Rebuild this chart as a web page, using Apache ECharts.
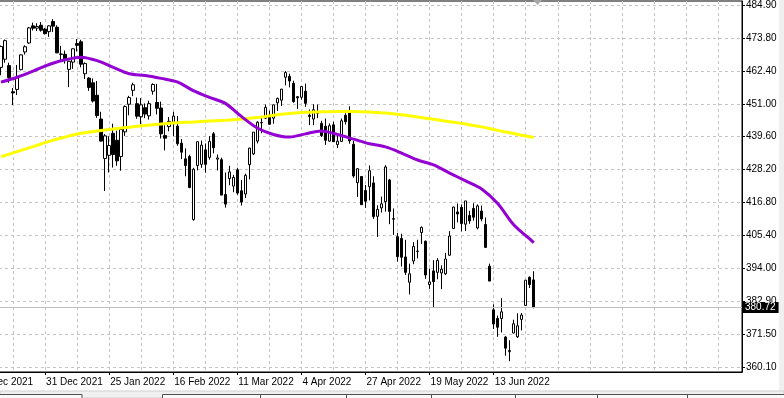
<!DOCTYPE html>
<html lang="en">
  <head>
    <meta charset="UTF-8" />
    <title>SPY Daily</title>
    <style>
      html, body { margin: 0; padding: 0; background: #fff; }
      #main { width: 784px; height: 398px; }
    </style>
  </head>
  <body>
    <div id="main"></div>

    <script src="https://cdn.jsdelivr.net/npm/echarts@6.0.0/dist/echarts.min.js"></script>
    <script>
      // trading days on the time axis (the first five sit left of the visible area)
      var months = ["Dec 2021", "Jan 2022", "Feb 2022", "Mar 2022", "Apr 2022", "May 2022", "Jun 2022"];
      var monthDays = [
        [8, 9, 10, 13, 14, 15, 16, 17, 20, 21, 22, 23, 27, 28, 29, 30, 31],
        [3, 4, 5, 6, 7, 10, 11, 12, 13, 14, 18, 19, 20, 21, 24, 25, 26, 27, 28, 31],
        [1, 2, 3, 4, 7, 8, 9, 10, 11, 14, 15, 16, 17, 18, 22, 23, 24, 25, 28],
        [1, 2, 3, 4, 7, 8, 9, 10, 11, 14, 15, 16, 17, 18, 21, 22, 23, 24, 25, 28, 29, 30, 31],
        [1, 4, 5, 6, 7, 8, 11, 12, 13, 14, 18, 19, 20, 21, 22, 25, 26, 27, 28, 29],
        [2, 3, 4, 5, 6, 9, 10, 11, 12, 13, 16, 17, 18, 19, 20, 23, 24, 25, 26, 27, 31],
        [1, 2, 3, 6, 7, 8, 9, 10, 13, 14, 15, 16, 17, 21, 22, 23, 24, 27, 28],
      ];
      var futureSlots = 52; // empty space right of the last bar
      var firstCandle = 5; // 15 Dec 2021

      // OHLC from 15 Dec 2021 to 28 Jun 2022
      var opens = [
        463.4, 466.2, 464.0, 455.0, 455.8, 462.6, 468.7, 471.8, 477.7, 476.9, 477.9, 476.6,
        475.7, 479.2, 477.2, 467.9, 467.9, 462.7, 465.2, 471.6, 472.2, 461.2, 459.7, 458.1, 453.8, 445.6, 432.0, 433.1, 440.7, 438.3, 432.7, 441.2,
        450.7, 455.5, 450.9, 446.4, 449.5, 446.7, 455.2, 451.3, 449.4, 439.9, 443.0, 443.9, 443.2, 437.3, 431.9, 432.7, 411.0, 429.6, 430.0,
        435.0, 432.4, 440.5, 431.8, 431.6, 419.6, 425.1, 422.5, 428.1, 420.9, 419.8, 429.9, 433.6, 438.0, 444.3, 445.9, 446.9, 445.9, 451.2, 452.1, 460.0, 460.3, 457.9,
        453.3, 453.1, 455.2, 446.9, 445.6, 448.0, 444.1, 443.1, 438.0, 443.6, 436.8, 437.9, 446.9, 448.5, 436.9, 423.7, 425.8, 421.0, 422.3, 423.6,
        412.1, 415.0, 417.1, 424.6, 411.1, 405.1, 404.5, 398.1, 389.4, 396.7, 400.0, 406.5, 403.5, 388.6, 393.3, 392.8, 392.6, 392.3, 398.7, 407.9, 413.6,
        415.2, 409.4, 412.4, 414.8, 408.1, 413.9, 409.3, 394.9, 379.9, 376.9, 376.9, 370.5, 365.5, 371.9, 370.6, 376.6, 381.4, 391.1, 390.2,
      ];
      var closes = [
        470.6, 472.6, 459.9, 454.6, 459.8, 467.7, 470.5, 477.0, 476.9, 477.5, 476.2, 475.0,
        477.7, 477.6, 468.4, 468.0, 466.1, 465.5, 469.8, 471.0, 464.5, 464.7, 456.5, 451.8, 446.8, 438.0, 439.8, 436.5, 433.4, 431.2, 442.0, 449.9,
        453.0, 457.4, 446.6, 450.5, 447.3, 450.9, 457.5, 449.3, 440.5, 439.0, 444.8, 446.6, 437.1, 434.2, 429.6, 422.0, 428.3, 437.8, 436.6,
        430.0, 437.9, 435.7, 432.2, 419.4, 416.3, 427.4, 425.5, 420.1, 417.0, 426.2, 435.6, 441.1, 444.5, 444.4, 449.6, 443.8, 450.5, 452.7, 455.9, 461.6, 458.7, 451.6,
        452.9, 456.8, 451.0, 446.5, 448.8, 447.6, 439.9, 438.3, 443.3, 437.8, 438.0, 445.0, 444.7, 438.1, 426.0, 428.5, 416.1, 417.3, 427.8, 412.0,
        414.5, 416.4, 429.1, 413.8, 411.3, 398.2, 398.0, 392.8, 392.3, 401.7, 400.1, 408.3, 391.9, 389.5, 389.6, 396.9, 393.9, 397.4, 405.3, 415.3, 412.9,
        409.6, 417.4, 410.5, 411.8, 415.7, 411.2, 401.4, 389.8, 375.0, 373.9, 379.2, 366.7, 365.9, 375.1, 374.4, 378.1, 390.1, 388.6, 380.72,
      ];
      var lows = [
        460.7, 465.0, 458.1, 450.4, 453.9, 462.4, 467.8, 471.5, 476.1, 475.9, 475.7, 474.7,
        473.9, 475.6, 468.3, 465.4, 464.7, 456.6, 462.9, 468.9, 463.4, 459.4, 455.3, 451.3, 446.0, 437.9, 420.8, 427.2, 428.9, 429.5, 427.8, 439.8,
        446.9, 453.5, 445.7, 443.8, 445.9, 445.4, 454.0, 447.2, 438.9, 434.8, 441.4, 439.7, 436.4, 431.8, 425.9, 421.8, 410.6, 427.9, 428.8,
        427.1, 431.6, 433.8, 427.9, 419.4, 415.1, 422.8, 420.4, 419.5, 415.8, 418.4, 424.8, 433.2, 437.2, 440.7, 445.6, 443.7, 444.0, 448.4, 450.1, 457.2, 456.5, 451.2,
        449.1, 452.3, 449.8, 443.5, 443.5, 445.9, 439.4, 436.7, 437.8, 437.7, 435.6, 437.7, 443.7, 437.1, 425.4, 418.8, 416.1, 415.0, 417.6, 411.2,
        405.0, 413.4, 413.7, 409.4, 405.7, 396.5, 394.8, 391.9, 385.2, 395.6, 397.6, 402.6, 390.6, 387.1, 380.5, 390.4, 387.0, 391.9, 398.5, 407.7, 410.0,
        406.9, 407.0, 409.5, 410.6, 407.6, 410.4, 401.4, 389.8, 373.3, 370.6, 372.1, 364.1, 362.2, 371.8, 370.2, 372.8, 381.4, 387.4, 380.4,
      ];
      var highs = [
        470.9, 473.0, 465.0, 456.3, 464.2, 467.9, 471.0, 477.3, 478.8, 478.6, 479.0, 477.0,
        477.9, 480.0, 477.9, 470.8, 469.2, 465.7, 469.9, 473.2, 472.9, 465.1, 460.0, 459.6, 458.7, 448.1, 440.4, 439.7, 444.0, 441.6, 442.0, 450.3,
        453.6, 458.1, 453.0, 452.8, 451.0, 451.9, 457.9, 457.7, 451.6, 443.5, 446.3, 448.1, 446.6, 438.7, 435.5, 433.3, 428.8, 437.8, 438.2,
        437.2, 439.7, 441.1, 433.4, 432.3, 427.2, 429.5, 426.4, 428.8, 424.6, 426.8, 435.7, 441.1, 444.9, 446.5, 450.6, 448.5, 450.6, 453.0, 456.0, 462.1, 461.2, 458.8,
        453.5, 456.9, 457.8, 448.9, 450.7, 450.6, 445.0, 445.8, 444.1, 444.7, 439.8, 445.8, 447.6, 450.0, 438.1, 428.7, 426.0, 422.9, 429.6, 425.9,
        415.9, 418.9, 429.7, 425.0, 414.8, 406.4, 406.1, 404.0, 395.8, 403.2, 404.0, 408.6, 403.8, 394.1, 397.0, 397.7, 395.2, 399.5, 407.0, 415.4, 416.5,
        416.2, 417.4, 414.0, 416.6, 416.2, 415.8, 411.7, 395.8, 381.8, 377.9, 383.9, 370.9, 369.4, 376.5, 378.7, 378.8, 390.1, 391.4, 393.2,
      ];

      // moving averages at every 4th bar (bar index on the time axis)
      var maBars = [5, 9, 13, 17, 21, 25, 29, 33, 37, 41, 45, 49, 53, 57, 61, 65, 69, 73, 77, 81, 85, 89, 93, 97, 101, 105, 109, 113, 117, 121, 125, 129, 133, 137, 138];
      var maFast = [
        458.3, 460.0, 462.1, 464.4, 466.0, 466.9, 465.7, 463.4, 461.2, 460.6, 459.6, 458.4, 455.4, 453.1, 451.0, 446.5, 442.5, 440.3,
        439.4, 440.5, 441.5, 440.3, 438.7, 437.1, 436.0, 433.9, 431.5, 429.8, 427.0, 424.3, 421.5, 416.5, 409.2, 404.3, 403.0,
      ];
      var maSlow = [
        432.6, 434.4, 436.1, 437.9, 439.4, 440.7, 441.5, 442.2, 442.8, 443.4, 443.9, 444.3, 444.6, 444.9, 445.2, 445.6, 446.1, 446.9,
        447.5, 447.9, 448.1, 448.2, 448.2, 448.0, 447.7, 447.1, 446.3, 445.5, 444.7, 443.9, 442.9, 441.7, 440.6, 439.5, 439.2,
      ];

      var priceTicks = ["360.10", "371.50", "382.90", "394.00", "405.40", "416.80", "428.20", "439.60", "451.00", "462.40", "473.80", "484.90"];
      var lastPrice = 380.72;

      // price scale: tick k sits at tickBase + k * tickStep
      var tickBase = 360.1;
      var tickStep = 11.345;
      var uMin = -0.1427;
      var uMax = 11.12;

      var dates = [];
      months.forEach(function (m, i) {
        monthDays[i].forEach(function (d) {
          dates.push(d + " " + m);
        });
      });
      var categories = dates.concat(new Array(futureSlots).fill(""));

      var candles = [];
      for (var i = 0; i < firstCandle; i++) candles.push("-");
      for (var j = 0; j < opens.length; j++) {
        candles.push([opens[j], closes[j], lows[j], highs[j]]);
      }
      var fastData = maBars.map(function (b, k) { return [b, maFast[k]]; });
      var slowData = maBars.map(function (b, k) { return [b, maSlow[k]]; });
      var tickValues = priceTicks.map(function (t, k) { return tickBase + k * tickStep; });

      var font = "Liberation Sans";
      var gridLine = { color: "#c4c4c4", type: [3, 3], width: 1 };
      var labelEvery = function (index, value) {
        return index % 16 === 0 && value !== "";
      };

      var myChart = echarts.init(document.getElementById("main"));
      var option = {
        backgroundColor: "#ffffff",
        animation: false,
        grid: {
          left: -19,
          right: 42,
          top: 1,
          bottom: 26,
          outerBoundsMode: "none",
          containLabel: false,
          show: true,
          borderColor: "#000",
          borderWidth: 1,
        },
        xAxis: {
          type: "category",
          data: categories,
          boundaryGap: false,
          axisLine: { lineStyle: { color: "#000", width: 1 } },
          axisTick: { interval: labelEvery, length: 3, lineStyle: { color: "#000" } },
          axisLabel: {
            interval: labelEvery,
            align: "left",
            margin: 5,
            padding: [0, 0, 0, 1],
            color: "#000",
            fontFamily: font,
            fontSize: 10,
          },
          splitLine: {
            show: true,
            interval: function (index) { return index % 8 === 0; },
            lineStyle: gridLine,
          },
        },
        yAxis: {
          type: "value",
          position: "right",
          min: tickBase + uMin * tickStep,
          max: tickBase + uMax * tickStep,
          axisLine: { show: true, lineStyle: { color: "#000", width: 1 } },
          axisTick: { show: true, length: 3, customValues: tickValues, lineStyle: { color: "#000" } },
          axisLabel: {
            customValues: tickValues,
            margin: 4,
            color: "#000",
            fontFamily: font,
            fontSize: 10,
            formatter: function (v) {
              var k = Math.round((v - tickBase) / tickStep);
              return priceTicks[k] || "";
            },
          },
          splitLine: { show: true, lineStyle: gridLine },
        },
        series: [
          {
            type: "candlestick",
            data: candles,
            barWidth: 3,
            itemStyle: {
              color: "#ffffff",
              color0: "#000000",
              borderColor: "#000000",
              borderColor0: "#000000",
              borderWidth: 1,
            },
            markLine: {
              silent: true,
              symbol: "none",
              z: 10,
              lineStyle: { color: "#c0c0c0", type: "solid", width: 1 },
              label: {
                position: "end",
                distance: 0,
                formatter: lastPrice.toFixed(2),
                backgroundColor: "#000",
                color: "#fff",
                padding: [1, 3, 0, 3],
                fontFamily: font,
                fontSize: 10,
              },
              data: [{ yAxis: lastPrice }],
            },
          },
          {
            type: "line",
            data: slowData,
            showSymbol: false,
            smooth: 0.3,
            z: 4,
            lineStyle: { color: "#ffff00", width: 3 },
          },
          {
            type: "line",
            data: fastData,
            showSymbol: false,
            smooth: 0.3,
            z: 5,
            lineStyle: { color: "#9400d3", width: 3 },
          },
        ],
        graphic: [
          { type: "polygon", shape: { points: [[533, 0], [542, 0], [537.5, 5]] }, style: { fill: "#a8a8a8" } },
          { type: "rect", shape: { x: 779, y: 0, width: 5, height: 391 }, style: { fill: "#f0f0f0" } },
          { type: "rect", shape: { x: 0, y: 391, width: 784, height: 7 }, style: { fill: "#f0f0f0", stroke: "#d0d0d0", lineWidth: 1 } },
          { type: "rect", shape: { x: -1, y: 394.5, width: 83, height: 6 }, style: { fill: "#fafafa", stroke: "#505050", lineWidth: 1 } },
          { type: "rect", shape: { x: 162.5, y: 394.5, width: 630, height: 6 }, style: { fill: "#fafafa", stroke: "#505050", lineWidth: 1 } },
          { type: "line", shape: { x1: 260.5, y1: 395, x2: 260.5, y2: 398 }, style: { stroke: "#505050" } },
          { type: "line", shape: { x1: 346.5, y1: 395, x2: 346.5, y2: 398 }, style: { stroke: "#505050" } },
          { type: "line", shape: { x1: 431.5, y1: 395, x2: 431.5, y2: 398 }, style: { stroke: "#505050" } },
          { type: "line", shape: { x1: 515.5, y1: 395, x2: 515.5, y2: 398 }, style: { stroke: "#505050" } },
          { type: "line", shape: { x1: 597.5, y1: 395, x2: 597.5, y2: 398 }, style: { stroke: "#505050" } },
          { type: "line", shape: { x1: 687.5, y1: 395, x2: 687.5, y2: 398 }, style: { stroke: "#505050" } },
        ],
      };
      myChart.setOption(option);
    </script>
  </body>
</html>
